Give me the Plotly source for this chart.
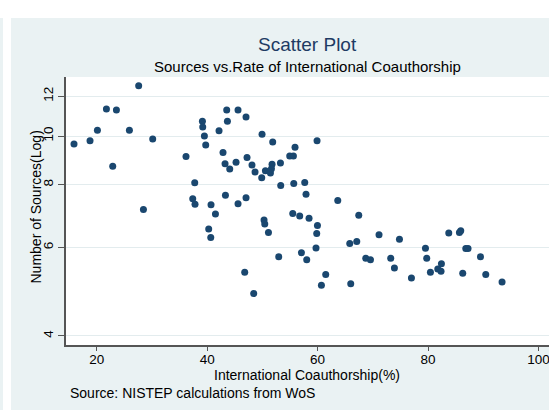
import plotly.graph_objects as go

# International coauthorship rate (%) and number of sources (log axis)
coauth = [27.6, 21.76, 23.57, 43.54, 45.59, 39.14, 43.67, 20.13, 25.92, 39.20,
          42.15, 39.50, 18.79, 30.14, 15.89, 39.74, 36.17, 42.87, 43.24, 45.23,
          44.09, 22.90, 37.75, 37.39, 37.80, 40.70, 43.31, 45.59, 28.46, 41.50,
          40.28, 40.65,
          47.04, 49.94, 51.87, 59.90, 55.91, 47.22, 54.95, 55.62, 48.12, 51.75,
          53.27, 48.67, 50.55, 51.46, 51.64, 49.88, 53.32, 55.68, 57.67, 57.90,
          47.04, 63.65,
          46.80, 48.43, 50.30, 50.43, 51.10, 55.50, 56.76, 58.45, 59.97, 59.84,
          59.71, 67.45, 52.96, 57.07, 58.03, 61.47, 60.69, 65.82, 67.09, 71.12,
          74.82, 66.00, 68.72, 69.57, 73.24, 73.91, 76.99,
          79.53, 79.76, 83.75, 85.68, 85.92, 86.83, 87.24, 89.49, 82.42, 80.43,
          81.76, 82.35, 86.28, 90.45, 93.40]
sources = [12.6, 11.32, 11.27, 11.27, 11.27, 10.70, 10.70, 10.27, 10.27, 10.42,
           10.25, 10.0, 9.79, 9.87, 9.64, 9.60, 9.11, 9.27, 8.81, 8.87,
           8.60, 8.71, 8.07, 7.50, 7.32, 7.30, 7.62, 7.33, 7.14, 7.00,
           6.53, 6.28,
           10.91, 10.08, 9.73, 9.79, 9.50, 9.06, 9.13, 9.13, 8.76, 8.79,
           8.84, 8.48, 8.53, 8.44, 8.61, 8.26, 7.97, 8.05, 8.08, 7.66,
           7.54, 7.44,
           5.36, 4.86, 6.81, 6.68, 6.43, 7.01, 6.93, 6.86, 6.64, 6.40,
           5.99, 6.96, 5.75, 5.86, 5.67, 5.30, 5.05, 6.11, 6.17, 6.36,
           6.23, 5.08, 5.71, 5.67, 5.71, 5.46, 5.22,
           5.98, 5.71, 6.41, 6.43, 6.48, 5.97, 5.97, 5.75, 5.57, 5.36,
           5.44, 5.38, 5.33, 5.30, 5.12]

x_ticks = [20, 40, 60, 80, 100]
y_ticks = [4, 6, 8, 10, 12]

title = "Scatter Plot"
subtitle = "Sources vs.Rate of International Coauthorship"
x_title = "International Coauthorship(%)"
y_title = "Number of Sources(Log)"
note = "Source: NISTEP calculations from WoS"

PANEL = "#EAF2F3"
NAVY = "#1A476F"
FONT = "Liberation Sans, Arial, sans-serif"

W, H = 549, 410
L, R, T, B = 66, 0, 77, 65
pw, ph = W - L - R, H - T - B


def px(xpix):
    return (xpix - L) / pw


def py(ypix):
    return (H - B - ypix) / ph


fig = go.Figure()
fig.add_trace(go.Scatter(
    x=coauth, y=sources, mode="markers",
    marker=dict(color=NAVY, size=7, line=dict(width=0)),
    showlegend=False, hoverinfo="x+y"))

fig.update_layout(
    width=W, height=H,
    margin=dict(l=L, r=R, t=T, b=B, pad=0, autoexpand=False),
    paper_bgcolor=PANEL, plot_bgcolor="white",
    font=dict(family=FONT, size=13.5, color="black"),
    xaxis=dict(range=[14.44, 101.9], tickvals=x_ticks, ticks="outside",
               ticklen=4, tickwidth=1, tickcolor="#555555",
               ticklabelstandoff=-3, ticklabeloverflow="allow",
               showline=True, linecolor="#555555", linewidth=1.5,
               showgrid=False, zeroline=False, automargin=False,
               tickfont=dict(size=13.5, color="black")),
    yaxis=dict(type="log", range=[0.5841, 1.1176], tickvals=y_ticks,
               ticktext=[str(v) for v in y_ticks], tickangle=-90,
               ticks="outside", ticklen=6, tickwidth=1, tickcolor="#555555",
               ticklabeloverflow="allow",
               showline=True, linecolor="#555555", linewidth=1.5,
               showgrid=True, gridcolor="#E3ECEE", gridwidth=1,
               zeroline=False, automargin=False,
               tickfont=dict(size=13.5, color="black")),
    shapes=[
        dict(type="rect", xref="paper", yref="paper", layer="below",
             x0=px(0), x1=px(W), y0=py(18), y1=py(0),
             fillcolor="white", line=dict(width=0)),
        dict(type="rect", xref="paper", yref="paper", layer="below",
             x0=px(3), x1=px(11), y0=py(H), y1=py(18),
             fillcolor="white", line=dict(width=0)),
    ],
    annotations=[
        dict(text=title, xref="paper", yref="paper", x=0.5, y=py(44),
             xanchor="center", yanchor="middle", showarrow=False,
             font=dict(size=19, color="#1E3B63")),
        dict(text=subtitle, xref="paper", yref="paper", x=0.5, y=py(66.5),
             xanchor="center", yanchor="middle", showarrow=False,
             font=dict(size=15, color="black")),
        dict(text=x_title, xref="paper", yref="paper", x=px(307), y=py(375),
             xanchor="center", yanchor="middle", showarrow=False,
             font=dict(size=14, color="black")),
        dict(text=y_title, xref="paper", yref="paper", x=px(35), y=py(207.5),
             xanchor="center", yanchor="middle", showarrow=False,
             textangle=-90, font=dict(size=14, color="black")),
        dict(text=note, xref="paper", yref="paper", x=px(68), y=py(393),
             xanchor="left", yanchor="middle", showarrow=False,
             font=dict(size=14, color="black")),
    ],
)

fig.write_html("out.html",
               config={"displayModeBar": False},
               post_script="document.body.style.margin='0';"
                           "document.body.style.overflow='hidden';")
